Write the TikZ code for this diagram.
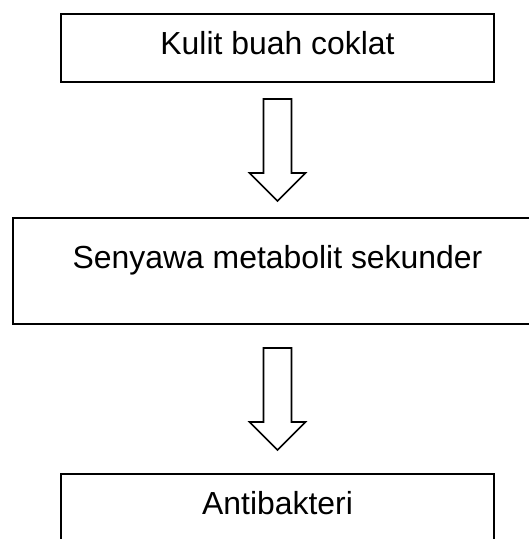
\documentclass[tikz,border=0pt]{standalone}
\usepackage{fontspec}
\setmainfont{Liberation Sans}
\usetikzlibrary{calc}
\begin{document}
\begin{tikzpicture}[x=1pt, y=-1pt,
  kotak/.style={draw, line width=2pt, inner sep=0pt, minimum width=433pt, minimum height=68.5pt,
    text height=24pt, text depth=11.5pt, font=\fontsize{31.9}{38}\selectfont},
  panah/.style={draw, line width=1.6pt, line join=miter, fill=white}]
  \useasboundingbox (0,0) rectangle (529,539);
  % kotak alur
  \node[kotak] (kulit) at (277.5,47.75) {Kulit buah coklat};
  \node[kotak, minimum width=529pt, minimum height=106pt, text depth=30pt] (senyawa) at (277.5,271) {Senyawa metabolit sekunder};
  \node[kotak] (anti) at (277.5,508.25) {Antibakteri};
  % panah blok di antara kotak
  \foreach \atas/\bawah in {kulit/senyawa, senyawa/anti}{
    \coordinate (tengah) at ($(\atas.south)!0.5!(\bawah.north)$);
    \draw[panah] (tengah) ++(-14,-51) -- ++(28,0) -- ++(0,74) -- ++(14,0) -- ++(-28,28) -- ++(-28,-28) -- ++(14,0) -- cycle;
  }
\end{tikzpicture}
\end{document}
